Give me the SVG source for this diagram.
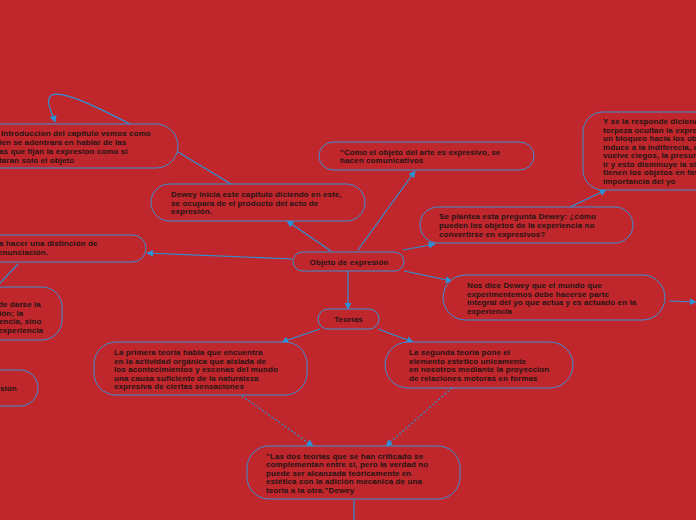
<svg xmlns="http://www.w3.org/2000/svg" width="696" height="520" viewBox="0 0 696 520">
<defs>
<marker id="ar" viewBox="0 0 10 10" refX="9" refY="5" markerWidth="7" markerHeight="7" orient="auto" markerUnits="userSpaceOnUse">
<path d="M0,0 L10,5 L0,10 z" fill="#2a92d8"/>
</marker>
<style>
.n{fill:#c0272d;stroke:#3a8fd4;stroke-width:1}
.t{font-family:"Liberation Sans",Arial,sans-serif;font-weight:bold;font-size:8px;letter-spacing:0.1px;fill:#1f1414}
.c{fill:none;stroke:#2a92d8;stroke-width:1.2}
.d{fill:none;stroke:#2a92d8;stroke-width:1.2;stroke-dasharray:2,2}
</style>
</defs>
<rect width="696" height="520" fill="#c0272d"/>
<g id="connectors">
<path class="c" d="M130,124 C95,106 62,90 52,95 C44,100 52,112 55,122" marker-end="url(#ar)"/>
<path class="c" d="M178,152 L231,184"/>
<path class="c" d="M331,251 L287,221" marker-end="url(#ar)"/>
<path class="c" d="M358,250 L415,171" marker-end="url(#ar)"/>
<path class="c" d="M403,250 L435,244" marker-end="url(#ar)"/>
<path class="c" d="M404,271 L452,281" marker-end="url(#ar)"/>
<path class="c" d="M348,271 L348,309" marker-end="url(#ar)"/>
<path class="c" d="M292,259 L147,253" marker-end="url(#ar)"/>
<path class="c" d="M570,207 L606,190" marker-end="url(#ar)"/>
<path class="c" d="M669,301 L696,302" marker-end="url(#ar)"/>
<path class="c" d="M18,264 L0,283"/>
<path class="c" d="M320,329 L282,342" marker-end="url(#ar)"/>
<path class="c" d="M378,329 L413,342" marker-end="url(#ar)"/>
<path class="d" d="M242,396 L313,446" marker-end="url(#ar)"/>
<path class="d" d="M452,388 L386,446" marker-end="url(#ar)"/>
<path class="c" d="M354,500 L354,520"/>
</g>
<g id="n_intro">
<rect class="n" x="-30" y="124" width="208" height="44" rx="22"/>
<text class="t" x="1" y="136">Introduccion del capitulo vemos como</text>
<text class="t" x="-1" y="145">ien se adentrara en hablar de las</text>
<text class="t" x="-1" y="154">as que fijan la expresion como si</text>
<text class="t" x="-1" y="163">taran solo el objeto</text>
</g>
<g id="n_dewey">
<rect class="n" x="151" y="184" width="214" height="37" rx="18.5"/>
<text class="t" x="171" y="197">Dewey inicia este capitulo diciendo en este,</text>
<text class="t" x="171" y="206">se ocupara de el producto del acto de</text>
<text class="t" x="171" y="214">expresión.</text>
</g>
<g id="n_como">
<rect class="n" x="319" y="142" width="215" height="28" rx="14"/>
<text class="t" x="340" y="155">"Como el objeto del arte es expresivo, se</text>
<text class="t" x="340" y="163">hacen comunicativos</text>
</g>
<g id="n_responde">
<rect class="n" x="583" y="112" width="140" height="78" rx="20"/>
<text class="t" x="603" y="124">Y se la responde diciendo</text>
<text class="t" x="603" y="133">torpeza ocultan la expre</text>
<text class="t" x="603" y="141">un bloqueo hacia los obj</text>
<text class="t" x="603" y="150">induce a la indiferecia, e</text>
<text class="t" x="603" y="158">vuelve ciegos, la presun</text>
<text class="t" x="603" y="167">ir y esto disminuye la si</text>
<text class="t" x="603" y="175">tienen los objetos en fav</text>
<text class="t" x="603" y="184">importancia del yo</text>
</g>
<g id="n_plantea">
<rect class="n" x="420" y="207" width="213" height="36" rx="18"/>
<text class="t" x="439" y="219">Se plantea esta pregunta Dewey: ¿cómo</text>
<text class="t" x="439" y="228">pueden los objetos de la experiencia no</text>
<text class="t" x="439" y="237">convertirse en expresivos?</text>
</g>
<g id="n_objeto">
<rect class="n" x="293" y="252" width="111" height="19" rx="9.5"/>
<text class="t" x="349" y="264.5" text-anchor="middle">Objeto de expresión</text>
</g>
<g id="n_nosdice">
<rect class="n" x="443" y="275" width="222" height="45" rx="22.5"/>
<text class="t" x="467" y="288">Nos dice Dewey que el mundo que</text>
<text class="t" x="467" y="297">experimentemos debe hacerse parte</text>
<text class="t" x="467" y="305">integral del yo que actua y es actuado en la</text>
<text class="t" x="467" y="314">experiencia</text>
</g>
<g id="n_distincion">
<rect class="n" x="-40" y="235" width="186" height="27" rx="13.5"/>
<text class="t" x="-1" y="246">a hacer una distinción de</text>
<text class="t" x="-2" y="255">enunciación.</text>
</g>
<g id="n_darse">
<rect class="n" x="-80" y="287" width="142" height="53" rx="20"/>
<text class="t" x="-2" y="307">de darse la</text>
<text class="t" x="-1" y="316">ión; la</text>
<text class="t" x="-1" y="324">encia, sino</text>
<text class="t" x="-2" y="333">experiencia</text>
</g>
<g id="n_sion">
<rect class="n" x="-80" y="370" width="118" height="36" rx="18"/>
<text class="t" x="0" y="391">sion</text>
</g>
<g id="n_teorias">
<rect class="n" x="318" y="309" width="61" height="20" rx="10"/>
<text class="t" x="348.5" y="322" text-anchor="middle">Teorías</text>
</g>
<g id="n_primera">
<rect class="n" x="94" y="342" width="213" height="53" rx="22"/>
<text class="t" x="114" y="355">La primera teoría habla que encuentra</text>
<text class="t" x="114" y="364">en la actividad orgánica que aislada de</text>
<text class="t" x="114" y="372"> los acontecimientos y escenas del mundo</text>
<text class="t" x="114" y="381">una causa suficiente de la naturaleza</text>
<text class="t" x="114" y="389">expresiva de ciertas sensaciones</text>
</g>
<g id="n_segunda">
<rect class="n" x="385" y="342" width="188" height="46" rx="23"/>
<text class="t" x="409" y="355">La segunda teoria pone el</text>
<text class="t" x="409" y="364">elemento estetico unicamente</text>
<text class="t" x="409" y="372">en nosotros mediante la proyeccion</text>
<text class="t" x="409" y="381">de relaciones motoras en formas</text>
</g>
<g id="n_quote">
<rect class="n" x="247" y="446" width="213" height="53" rx="22"/>
<text class="t" x="266" y="459">"Las dos teorias que se han criticado se</text>
<text class="t" x="266" y="467">complementan entre si, pero la verdad no</text>
<text class="t" x="266" y="476">puede ser alcanzada teóricamente en</text>
<text class="t" x="266" y="484">estética con la adición mecanica de una</text>
<text class="t" x="266" y="493">teoria a la otra."Dewey</text>
</g>
</svg>
